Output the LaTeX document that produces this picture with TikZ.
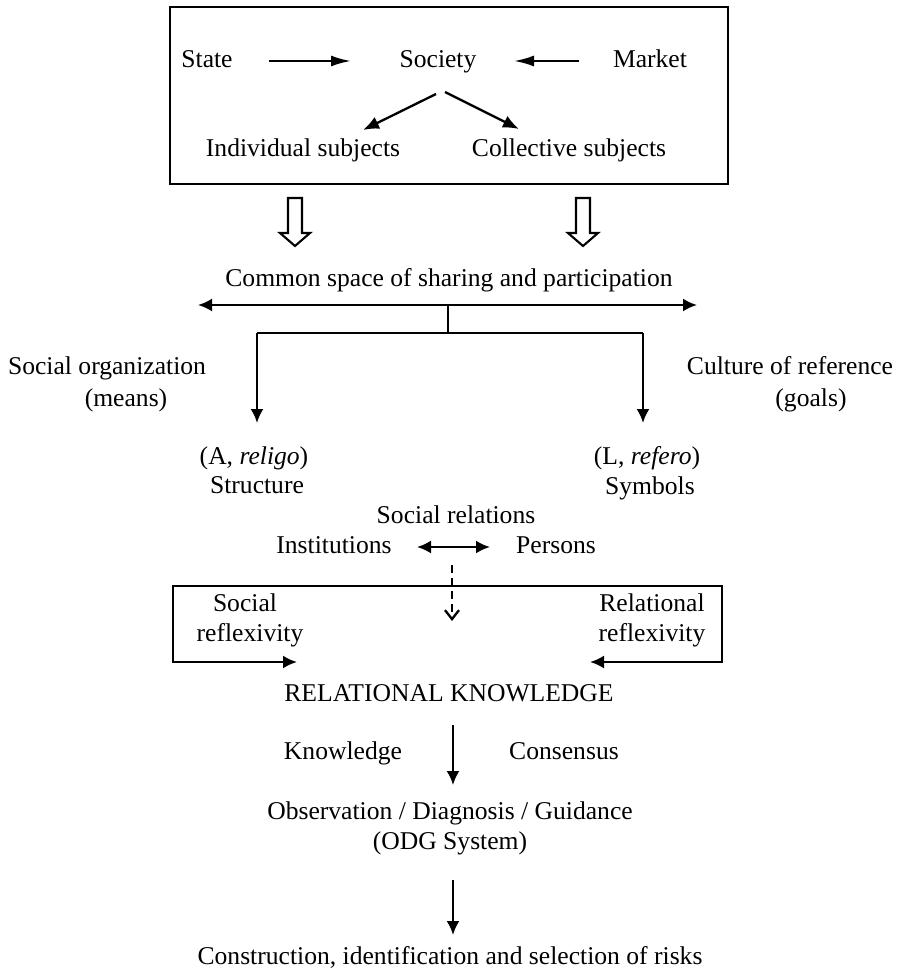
\documentclass[tikz,border=0pt]{standalone}
\usepackage{fontspec}
\setmainfont{Liberation Serif}
\usetikzlibrary{arrows.meta}
\begin{document}
\begin{tikzpicture}[x=0.5pt,y=-0.5pt,
  txt/.style={inner sep=0pt,font=\fontsize{12.8}{15}\selectfont,align=center,text height=0.88em,text depth=0.22em},
  ln/.style={line width=1.15pt,line join=miter},
  arr/.style={ln,-{Latex[length=7pt,width=6.5pt]}},
  darr/.style={ln,{Latex[length=7pt,width=6.5pt]}-{Latex[length=7pt,width=6.5pt]}},
  longarr/.style={ln,-{Latex[length=10pt,width=5.5pt]}},
  midarr/.style={ln,-{Latex[length=8pt,width=6.5pt]}},
  dasharr/.style={ln,dash pattern=on 4pt off 2.5pt,-{Straight Barb[length=4.5pt,width=7pt]}},
  hollow/.style={line width=1.05pt,fill=white,line join=miter}]
\useasboundingbox (0,0) rectangle (897,974);
% top box
\coordinate (tbA) at (170,7);
\coordinate (tbB) at (728,184);
\draw[ln] (tbA) rectangle (tbB);
\node[txt] (state) at (207,61) {State};
\node[txt] (society) at (438,61) {Society};
\node[txt] (market) at (650,61) {Market};
\node[txt] (indiv) at (303,150) {Individual subjects};
\node[txt] (coll) at (569,150) {Collective subjects};
\coordinate (sA) at (269,61); \coordinate (sB) at (351,61);
\coordinate (mA) at (579,61); \coordinate (mB) at (514,61);
\draw[longarr] (sA) -- (sB);
\draw[longarr] (mA) -- (mB);
\coordinate (soL) at (436,94); \coordinate (inT) at (363,130);
\coordinate (soR) at (445,92); \coordinate (coT) at (519,129);
\draw[midarr] (soL) -- (inT);
\draw[midarr] (soR) -- (coT);
% hollow arrows
\foreach \hx in {295,583}{
  \draw[hollow] (\hx-7,198) -- (\hx+7,198) -- (\hx+7,233) -- (\hx+15,233) -- (\hx,246) -- (\hx-15,233) -- (\hx-7,233) -- cycle;
}
\node[txt] (common) at (449,280) {Common space of sharing and participation};
\coordinate (cL) at (198,305); \coordinate (cR) at (697,305);
\coordinate (cM) at (448,305); \coordinate (bM) at (448,333);
\coordinate (bL) at (257,333); \coordinate (bR) at (643,333);
\coordinate (aL) at (257,423); \coordinate (aR) at (643,423);
\draw[darr] (cL) -- (cR);
\draw[ln] (cM) -- (bM);
\draw[ln] (bL) -- (bR);
\draw[arr] (bL) -- (aL);
\draw[arr] (bR) -- (aR);
\node[txt] (socorg) at (107,368) {Social organization};
\node[txt] (means) at (126,400) {(means)};
\node[txt] (culture) at (790,368) {Culture of reference};
\node[txt] (goals) at (811,400) {(goals)};
\node[txt] (religo) at (254,458) {(A, \textit{religo})};
\node[txt] (structure) at (257,487) {Structure};
\node[txt] (refero) at (647,458) {(L, \textit{refero})};
\node[txt] (symbols) at (650,488) {Symbols};
\node[txt] (socrel) at (456,517) {Social relations};
\node[txt] (inst) at (334,547) {Institutions};
\node[txt] (persons) at (556,547) {Persons};
\coordinate (iA) at (417,547); \coordinate (iB) at (490,547);
\draw[darr] (iA) -- (iB);
\coordinate (dA) at (452,565); \coordinate (dB) at (452,621);
\draw[dasharr] (dA) -- (dB);
% reflexivity frame
\coordinate (rTop) at (449,586);
\coordinate (rTL) at (173,586); \coordinate (rBL) at (173,662); \coordinate (rEL) at (297,662);
\coordinate (rTR) at (722,586); \coordinate (rBR) at (722,662); \coordinate (rER) at (590,662);
\draw[arr] (rTop) -- (rTL) -- (rBL) -- (rEL);
\draw[arr] (rTop) -- (rTR) -- (rBR) -- (rER);
\node[txt] (social) at (245,605) {Social};
\node[txt] (reflL) at (250,635) {reflexivity};
\node[txt] (relational) at (652,605) {Relational};
\node[txt] (reflR) at (652,635) {reflexivity};
\node[txt] (relknow) at (449,695) {RELATIONAL KNOWLEDGE};
\coordinate (k1) at (453,725); \coordinate (k2) at (453,785);
\draw[arr] (k1) -- (k2);
\node[txt] (knowledge) at (343,753) {Knowledge};
\node[txt] (consensus) at (564,753) {Consensus};
\node[txt] (odg) at (450,813) {Observation / Diagnosis / Guidance};
\node[txt] (odgsys) at (450,843) {(ODG System)};
\coordinate (o1) at (453,880); \coordinate (o2) at (453,935);
\draw[arr] (o1) -- (o2);
\node[txt] (risks) at (450,958) {Construction, identification and selection of risks};
\end{tikzpicture}
\end{document}
